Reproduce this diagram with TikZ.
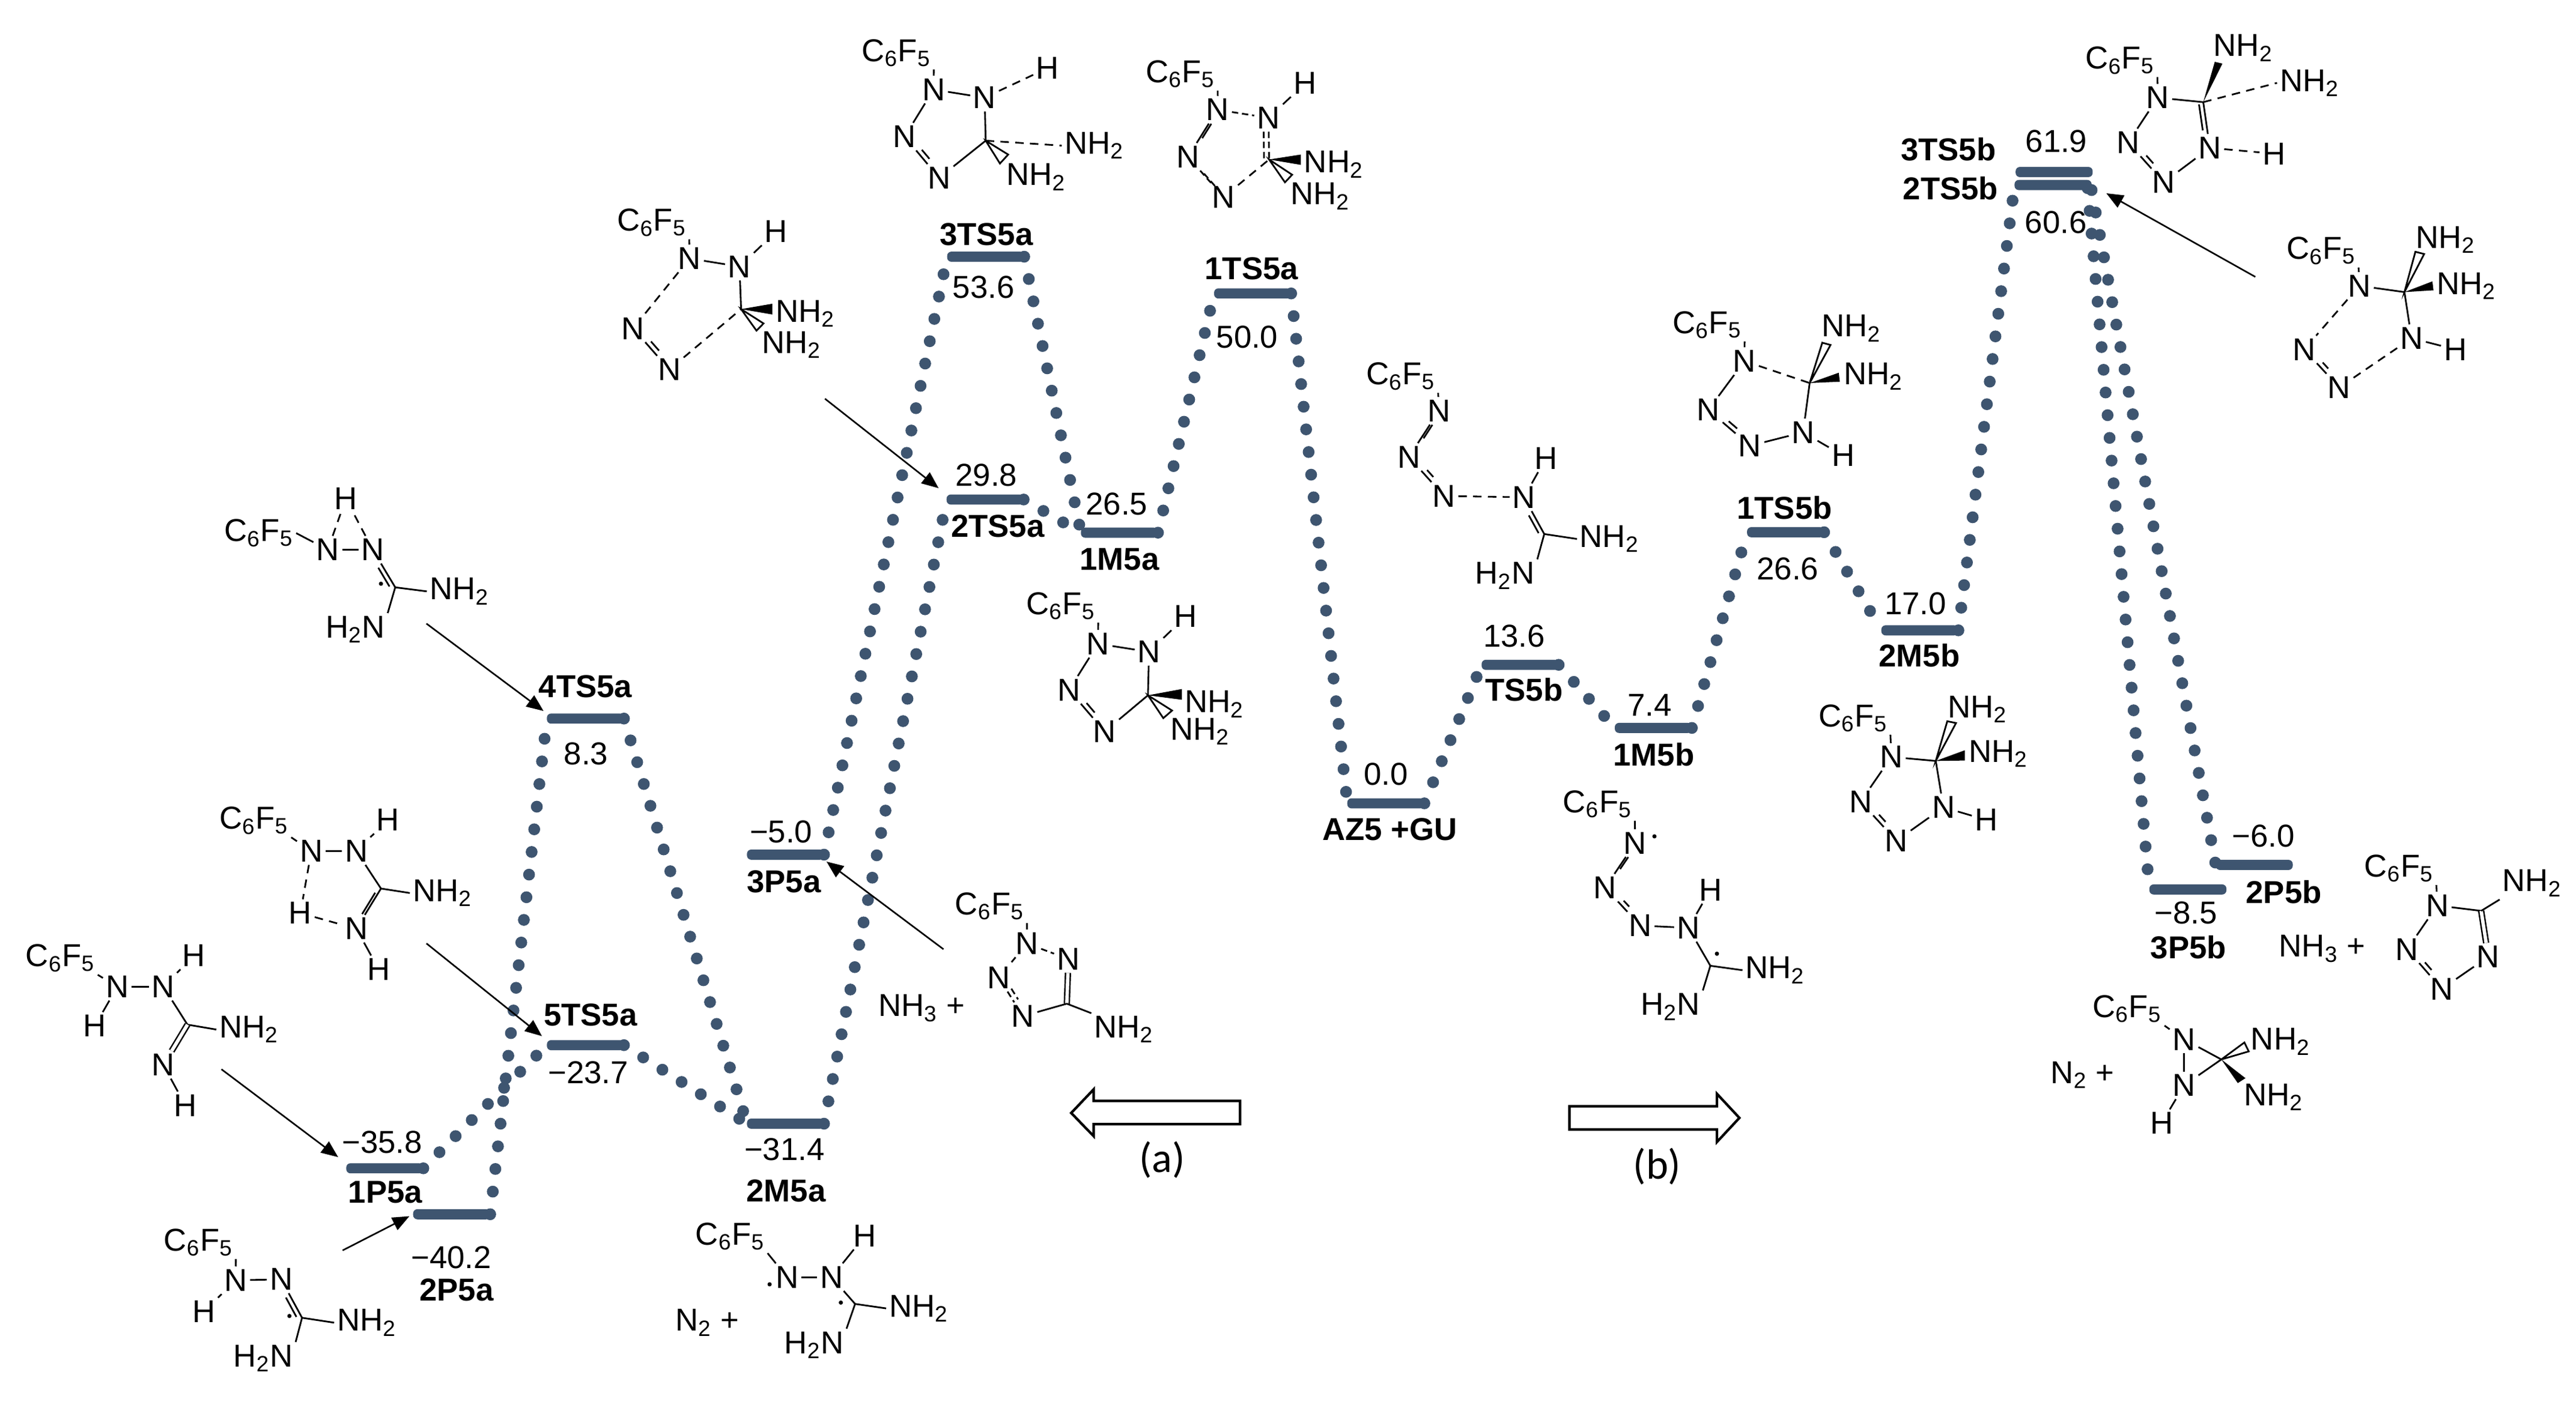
\documentclass[tikz,border=0pt]{standalone}
\usepackage{fontspec}
\setmainfont{Liberation Sans}
\newfontfamily\carlitofont{Carlito}
\usetikzlibrary{arrows.meta}
\definecolor{barblue}{HTML}{3E5570}
\newcommand{\fs}{\fontsize{15}{18}\selectfont}
\newcommand{\nhtwo}{NH\textsubscript{2}}
\newcommand{\htwon}{H\textsubscript{2}N}
\newcommand{\cf}{C\textsubscript{6}F\textsubscript{5}}
\newcommand{\halfbond}[3]{\draw (#1) to (#2); \draw[shorten >=1.4pt,shorten <=1.4pt,transform canvas={shift={(#3)}}] (#1) to (#2);}
\newcommand{\dashbond}[3]{\draw[sbond] (#1) to (#2); \draw[sbond,transform canvas={shift={(#3)}}] (#1) to (#2);}
\tikzset{
  toppanel/.style={shift={(#1,0)},x=0.00912cm,y=-0.007462cm},
  lowpanel/.style={shift={(#1,-11.70cm)},x=0.00912cm,y=-0.00743cm},
  every node/.style={inner sep=.6pt,outer sep=.8pt,font=\fs},
  lbl/.style={font=\fs\bfseries},
  energybar/.style={fill=barblue,rounded corners=2pt,minimum width=36.5pt,minimum height=4.8pt,inner sep=0pt,outer sep=0pt},
  dotline/.style={color=barblue,line width=5.6pt,line cap=round,dash pattern=on 0pt off 10.8pt},
  pointer/.style={line width=.75pt,-{Stealth[length=8pt,width=6.5pt,inset=0pt]}},
  bond/.style={line width=.8pt},
  pbond/.style={line width=.8pt,dash pattern=on 4pt off 3pt},
  sbond/.style={line width=.8pt,dash pattern=on 3pt off 1.8pt},
  dbl/.style={double,double distance=1.6pt,line width=.7pt},
  hollow/.style={line width=.8pt,fill=white},
  blockarrow/.style={line width=1.2pt,fill=white}
}
\begin{document}
\begin{tikzpicture}
  \useasboundingbox (0,0) rectangle (42.88,-23.35);
  % top left
  \begin{scope}[toppanel=0cm,bond]
    \node[lbl] (name4ts) at (1068,1532) {4TS5a};
    \coordinate (tail2ts) at (1505,890);
    \coordinate (tail4ts) at (778,1392);
    \draw
      (1189,497) node (m1cf){\cf}
      (1258,577) node (m1n1){N}
      (1349,595) node (m1n2){N}
      (1416,517) node (m1h){H}
      (1469,700) node (m1nha){\nhtwo}
      (1444,770) node (m1nhb){\nhtwo}
      (1155,733) node (m1n3){N}
      (1221,825) node (m1n4){N};
    \coordinate (m1c) at (1352,690);
    \draw (m1cf.south east) to (m1n1);
    \draw (m1n1) to (m1n2);
    \draw (m1n2) to (m1h);
    \draw (m1n2) to (m1c);
    \draw[pbond] (m1n1) to (m1n3);
    \halfbond{m1n3}{m1n4}{1.8pt,1.4pt}
    \draw[pbond] (m1n4) to (m1c);
    \fill (m1c) -- (1409,678) -- (1409,702) -- cycle;
    \draw[hollow] (m1c) -- (1393,722) -- (1380,738) -- cycle;
    \draw
      (472,1190) node (m13cf){\cf}
      (598,1227) node (m13n1){N}
      (680,1227) node (m13n2){N}
      (631,1113) node (m13h){H}
      (838,1320) node (m13nh){\nhtwo}
      (648,1405) node (m13hn){\htwon};
    \coordinate (m13c) at (721,1311);
    \draw (m13cf.east) to (m13n1);
    \draw (m13n1) to (m13n2);
    \draw[pbond] (m13n1) to (m13h);
    \draw[pbond] (m13n2) to (m13h);
    \halfbond{m13n2}{m13c}{-2pt,-.8pt}
    \draw (m13c) to (m13nh.west);
    \draw (m13c) to (m13hn.north east);
    \fill (695,1303) circle (1pt);
  \end{scope}
  % bottom left
  \begin{scope}[lowpanel=0cm,bond]
    \node[energybar] (ts4a) at (1068,36) {};
    \node[energybar] (ts5a) at (1068,768) {};
    \node[energybar] (p1a) at (702,1044) {};
    \node[energybar] (p2a) at (824,1147) {};
    \node[energybar] (p3a) at (1433,341) {};
    \node[energybar] (m2a) at (1433,944) {};
    \node (val4ts) at (1069,115) {8.3};
    \node[lbl] (name5ts) at (1077,700) {5TS5a};
    \node (val5ts) at (1073,830) {−23.7};
    \node (val1p) at (697,985) {−35.8};
    \node[lbl] (name1p) at (703,1097) {1P5a};
    \node (val2p) at (823,1244) {−40.2};
    \node[lbl] (name2p) at (833,1316) {2P5a};
    \node (val3p) at (1425,290) {−5.0};
    \node[lbl] (name3p) at (1430,402) {3P5a};
    \node (val2m) at (1431,1002) {−31.4};
    \node[lbl] (name2m) at (1434,1094) {2M5a};
    \coordinate (tail5ts) at (778,540);
    \coordinate (tail1p) at (404,822);
    \coordinate (tail2p) at (625,1228);
    \draw
      (110,573) node (m11cf){\cf}
      (214,637) node (m11n1){N}
      (298,637) node (m11n2){N}
      (354,567) node (m11h1){H}
      (173,725) node (m11h2){H}
      (454,733) node (m11nh){\nhtwo}
      (298,812) node (m11n3){N}
      (338,903) node (m11h3){H};
    \coordinate (m11c) at (342,722);
    \draw (m11cf.south east) to (m11n1);
    \draw (m11n1) to (m11n2);
    \draw (m11n2) to (m11h1);
    \draw (m11n1) to (m11h2);
    \draw (m11n2) to (m11c);
    \draw (m11c) to (m11nh.west);
    \draw[dbl] (m11c) to (m11n3);
    \draw (m11n3) to (m11h3);
    \draw
      (463,265) node (m12cf){\cf}
      (568,333) node (m12n1){N}
      (650,333) node (m12n2){N}
      (708,263) node (m12h1){H}
      (548,472) node (m12h2){H}
      (807,427) node (m12nh){\nhtwo}
      (650,507) node (m12n3){N}
      (691,598) node (m12h3){H};
    \coordinate (m12c) at (695,417);
    \draw (m12cf.south east) to (m12n1);
    \draw (m12n1) to (m12n2);
    \draw (m12n2) to (m12h1);
    \draw (m12n2) to (m12c);
    \draw (m12c) to (m12nh.west);
    \halfbond{m12c}{m12n3}{-2pt,-.8pt}
    \draw[pbond] (m12n1) to (m12h2);
    \draw[pbond] (m12h2) to (m12n3);
    \draw (m12n3) to (m12h3);
    \draw
      (362,1210) node (m14cf){\cf}
      (430,1295) node (m14n1){N}
      (513,1293) node (m14n2){N}
      (372,1365) node (m14h){H}
      (669,1390) node (m14nh){\nhtwo}
      (480,1470) node (m14hn){\htwon};
    \coordinate (m14c) at (551,1379);
    \draw (m14cf.south east) to (m14n1);
    \draw (m14n1) to (m14n2);
    \draw (m14n1) to (m14h);
    \halfbond{m14n2}{m14c}{-2pt,-.8pt}
    \draw (m14c) to (m14nh.west);
    \draw (m14c) to (m14hn.north east);
    \fill (528,1375) circle (1pt);
    \draw
      (1332,1197) node (m15cf){\cf}
      (1436,1288) node (m15n1){N}
      (1517,1288) node (m15n2){N}
      (1578,1195) node (m15h){H}
      (1676,1358) node (m15nh){\nhtwo}
      (1485,1440) node (m15hn){\htwon}
      (1290,1390) node (m15plus){N\textsubscript{2} +};
    \coordinate (m15c) at (1560,1348);
    \draw (m15cf.south east) to (m15n1);
    \draw (m15n1) to (m15n2);
    \draw (m15n2) to (m15h);
    \draw (m15n2) to (m15c);
    \draw (m15c) to (m15nh.west);
    \draw (m15c) to (m15hn.north east);
    \fill (1534,1345) circle (1pt);
    \fill (1404,1304) circle (1pt);
  \end{scope}
  % top middle
  \begin{scope}[toppanel=14.30cm,bond]
    \node[energybar] (ts3a) at (231,573) {};
    \node[energybar] (ts1a) at (718,655) {};
    \node[energybar] (ts2a) at (230,1115) {};
    \node[energybar] (m1a) at (475,1189) {};
    \node[energybar] (tsb) at (1206,1484) {};
    \node[lbl] (name3ts) at (232,523) {3TS5a};
    \node (val3ts) at (227,641) {53.6};
    \node[lbl] (name1ts) at (716,600) {1TS5a};
    \node (val1ts) at (708,753) {50.0};
    \node (val2ts) at (232,1060) {29.8};
    \node[lbl] (name2ts) at (253,1175) {2TS5a};
    \node (val1m) at (470,1125) {26.5};
    \node[lbl] (name1m) at (475,1248) {1M5a};
    \node (valtsb) at (1195,1420) {13.6};
    \node[lbl] (nametsb) at (1213,1540) {TS5b};
    \draw
      (68,118) node (m2cf){\cf}
      (136,200) node (m2n1){N}
      (229,218) node (m2n2){N}
      (344,152) node (m2h){H}
      (429,325) node (m2nha){\nhtwo}
      (323,395) node (m2nhb){\nhtwo}
      (83,305) node (m2n3){N}
      (146,397) node (m2n4){N};
    \coordinate (m2c) at (231,314);
    \draw (m2cf.south east) to (m2n1);
    \draw (m2n1) to (m2n2);
    \draw[pbond] (m2n2) to (m2h);
    \draw (m2n2) to (m2c);
    \draw[pbond] (m2c) to (m2nha.west);
    \draw (m2n1) to (m2n3);
    \halfbond{m2n3}{m2n4}{1.8pt,1.4pt}
    \draw (m2n4) to (m2c);
    \draw[hollow] (m2c) -- (272,345) -- (257,365) -- cycle;
    \draw
      (586,165) node (m3cf){\cf}
      (654,245) node (m3n1){N}
      (747,263) node (m3n2){N}
      (814,186) node (m3h){H}
      (866,367) node (m3nha){\nhtwo}
      (841,438) node (m3nhb){\nhtwo}
      (600,350) node (m3n3){N}
      (665,440) node (m3n4){N};
    \coordinate (m3c) at (748,356);
    \draw (m3cf.south east) to (m3n1);
    \draw[sbond] (m3n1) to (m3n2);
    \draw (m3n2) to (m3h);
    \dashbond{m3n2}{m3c}{-2.4pt,0pt}
    \halfbond{m3n1}{m3n3}{1.9pt,1.1pt}
    \dashbond{m3n3}{m3n4}{1.8pt,-1.4pt}
    \draw[pbond] (m3n4) to (m3c);
    \fill (m3c) -- (806,345) -- (806,368) -- cycle;
    \draw[hollow] (m3c) -- (790,390) -- (777,407) -- cycle;
    \draw
      (368,1353) node (m4cf){\cf}
      (436,1437) node (m4n1){N}
      (529,1455) node (m4n2){N}
      (596,1376) node (m4h){H}
      (648,1572) node (m4nha){\nhtwo}
      (622,1633) node (m4nhb){\nhtwo}
      (383,1540) node (m4n3){N}
      (448,1633) node (m4n4){N};
    \coordinate (m4c) at (527,1552);
    \draw (m4cf.south east) to (m4n1);
    \draw (m4n1) to (m4n2);
    \draw (m4n2) to (m4h);
    \draw (m4n2) to (m4c);
    \draw (m4n1) to (m4n3);
    \halfbond{m4n3}{m4n4}{1.8pt,1.4pt}
    \draw (m4n4) to (m4c);
    \fill (m4c) -- (589,1538) -- (589,1562) -- cycle;
    \draw[hollow] (m4c) -- (571,1586) -- (555,1603) -- cycle;
    \draw
      (988,840) node (m5cf){\cf}
      (1058,917) node (m5n1){N}
      (1003,1020) node (m5n2){N}
      (1067,1107) node (m5n3){N}
      (1213,1110) node (m5n4){N}
      (1253,1023) node (m5h){H}
      (1369,1203) node (m5nh){\nhtwo}
      (1178,1285) node (m5hn){\htwon};
    \coordinate (m5c) at (1250,1192);
    \draw (m5cf.south east) to (m5n1);
    \halfbond{m5n1}{m5n2}{1.9pt,1.1pt}
    \halfbond{m5n2}{m5n3}{1.8pt,1.4pt}
    \draw[pbond] (m5n3) to (m5n4);
    \draw (m5n4) to (m5h);
    \halfbond{m5n4}{m5c}{-2pt,-.8pt}
    \draw (m5c) to (m5nh.west);
    \draw (m5c) to (m5hn.north east);
  \end{scope}
  % bottom middle
  \begin{scope}[lowpanel=14.30cm,bond]
    \node[energybar] (az) at (961,226) {};
    \node[energybar] (m1b) at (1449,57) {};
    \node (valaz) at (961,160) {0.0};
    \node[lbl] (nameaz) at (968,285) {AZ5 +GU};
    \node (val1mb) at (1442,6) {7.4};
    \node[lbl] (name1mb) at (1450,116) {1M5b};
    \coordinate (tail3p) at (154,553);
    \node[font=\carlitofont\fontsize{20}{24}\selectfont] (capa) at (553,1025) {(a)};
    \node[font=\carlitofont\fontsize{20}{24}\selectfont] (capb) at (1456,1040) {(b)};
    \draw[blockarrow] (695,893) -- (428,893) -- (428,867) -- (387,920) -- (428,972) -- (428,945) -- (695,945) -- cycle;
    \draw[blockarrow] (1296,905) -- (1565,905) -- (1565,877) -- (1606,931) -- (1565,985) -- (1565,957) -- (1296,957) -- cycle;
    \draw
      (114,685) node (m16plus){NH\textsubscript{3} +}
      (238,457) node (m16cf){\cf}
      (306,540) node (m16n1){N}
      (382,575) node (m16n2){N}
      (255,617) node (m16n3){N}
      (299,703) node (m16n4){N}
      (483,733) node (m16nh){\nhtwo};
    \coordinate (m16c) at (379,675);
    \draw (m16cf.south east) to (m16n1);
    \draw[sbond] (m16n1) to (m16n2);
    \draw[sbond] (m16n1) to (m16n3);
    \dashbond{m16n3}{m16n4}{1.8pt,1.4pt}
    \draw[dbl] (m16n2) to (m16c);
    \draw (m16n4) to (m16c);
    \draw (m16c) to (m16nh.north west);
    \draw
      (1347,228) node (m10cf){\cf}
      (1416,315) node (m10n1){N}
      (1361,415) node (m10n2){N}
      (1425,500) node (m10n3){N}
      (1513,505) node (m10n4){N}
      (1553,420) node (m10h){H}
      (1671,600) node (m10nh){\nhtwo}
      (1480,682) node (m10hn){\htwon};
    \coordinate (m10c) at (1553,590);
    \draw (m10cf.south east) to (m10n1);
    \halfbond{m10n1}{m10n2}{1.9pt,1.1pt}
    \halfbond{m10n2}{m10n3}{1.8pt,1.4pt}
    \draw (m10n3) to (m10n4);
    \draw (m10n4) to (m10h);
    \draw (m10n4) to (m10c);
    \draw (m10c) to (m10nh.west);
    \draw (m10c) to (m10hn.north east);
    \fill (1451,300) circle (1pt);
    \fill (1565,563) circle (1pt);
  \end{scope}
  % top right
  \begin{scope}[toppanel=28.60cm,bond]
    \node[energybar] (ts3b) at (613,384) {};
    \node[energybar] (ts2b) at (611,413) {};
    \node[energybar] (ts1b) at (123,1188) {};
    \node[energybar] (m2b) at (368,1407) {};
    \node[lbl] (name3tb) at (420,333) {3TS5b};
    \node[lbl] (name2tb) at (424,421) {2TS5b};
    \node (val3tb) at (617,315) {61.9};
    \node (val2tb) at (616,496) {60.6};
    \node[lbl] (name1tb) at (121,1133) {1TS5b};
    \node (val1tb) at (127,1270) {26.6};
    \node (val2mb) at (360,1347) {17.0};
    \node[lbl] (name2mb) at (367,1463) {2M5b};
    \coordinate (foot2tb) at (674,420);
    \coordinate (tail2tb) at (980,618);
    \draw
      (-20,725) node (m6cf){\cf}
      (48,806) node (m6n1){N}
      (-18,915) node (m6n2){N}
      (58,995) node (m6n3){N}
      (155,965) node (m6n4){N}
      (228,1017) node (m6h){H}
      (243,733) node (m6nha){\nhtwo}
      (283,840) node (m6nhb){\nhtwo};
    \coordinate (m6c) at (167,855);
    \draw (m6cf.south east) to (m6n1);
    \draw (m6n1) to (m6n2);
    \halfbond{m6n2}{m6n3}{1.8pt,1.4pt}
    \draw (m6n3) to (m6n4);
    \draw (m6n4) to (m6h);
    \draw (m6n4) to (m6c);
    \draw[pbond] (m6n1) to (m6c);
    \draw[hollow] (m6c) -- (190,765) -- (205,770) -- cycle;
    \fill (m6c) -- (220,832) -- (222,852) -- cycle;
    \draw
      (733,135) node (m7cf){\cf}
      (802,218) node (m7n1){N}
      (748,318) node (m7n2){N}
      (813,407) node (m7n3){N}
      (897,330) node (m7n4){N}
      (1014,343) node (m7h){H}
      (958,107) node (m7nha){\nhtwo}
      (1079,185) node (m7nhb){\nhtwo};
    \coordinate (m7c) at (885,228);
    \draw (m7cf.south east) to (m7n1);
    \draw (m7n1) to (m7n2);
    \halfbond{m7n2}{m7n3}{1.8pt,1.4pt}
    \draw (m7n3) to (m7n4);
    \halfbond{m7n4}{m7c}{-2.2pt,.3pt}
    \draw[pbond] (m7n4) to (m7h);
    \draw (m7n1) to (m7c);
    \draw[pbond] (m7c) to (m7nhb.west);
    \fill (m7c) -- (906,138) -- (920,142) -- cycle;
    \draw
      (1100,560) node (m8cf){\cf}
      (1170,638) node (m8n1){N}
      (1069,780) node (m8n2){N}
      (1133,865) node (m8n3){N}
      (1265,755) node (m8n4){N}
      (1345,780) node (m8h){H}
      (1327,535) node (m8nha){\nhtwo}
      (1365,638) node (m8nhb){\nhtwo};
    \coordinate (m8c) at (1252,652);
    \draw (m8cf.south east) to (m8n1);
    \draw (m8n1) to (m8c);
    \draw[pbond] (m8n1) to (m8n2);
    \halfbond{m8n2}{m8n3}{1.8pt,1.4pt}
    \draw[pbond] (m8n3) to (m8n4);
    \draw (m8n4) to (m8h);
    \draw (m8n4) to (m8c);
    \draw[hollow] (m8c) -- (1272,562) -- (1288,567) -- cycle;
    \fill (m8c) -- (1303,628) -- (1305,648) -- cycle;
  \end{scope}
  % bottom right
  \begin{scope}[lowpanel=28.60cm,bond]
    \node[energybar] (p2b) at (978,364) {};
    \node[energybar] (p3b) at (857,419) {};
    \node (val2pb) at (995,299) {−6.0};
    \node[lbl] (name2pb) at (1032,425) {2P5b};
    \node (val3pb) at (853,472) {−8.5};
    \node[lbl] (name3pb) at (858,548) {3P5b};
    \draw
      (246,35) node (m9cf){\cf}
      (316,122) node (m9n1){N}
      (260,222) node (m9n2){N}
      (325,310) node (m9n3){N}
      (411,235) node (m9n4){N}
      (489,263) node (m9h){H}
      (473,15) node (m9nha){\nhtwo}
      (511,115) node (m9nhb){\nhtwo};
    \coordinate (m9c) at (397,131);
    \draw (m9cf.south east) to (m9n1);
    \draw (m9n1) to (m9c);
    \draw (m9n1) to (m9n2);
    \halfbond{m9n2}{m9n3}{1.8pt,1.4pt}
    \draw (m9n3) to (m9n4);
    \draw (m9n4) to (m9h);
    \draw (m9n4) to (m9c);
    \draw[hollow] (m9c) -- (418,42) -- (434,46) -- cycle;
    \fill (m9c) -- (450,107) -- (450,130) -- cycle;
    \draw
      (1102,552) node (m17plus){NH\textsubscript{3} +}
      (1242,372) node (m17cf){\cf}
      (1312,455) node (m17n1){N}
      (1405,570) node (m17n2){N}
      (1257,553) node (m17n3){N}
      (1320,642) node (m17n4){N}
      (1485,405) node (m17nh){\nhtwo};
    \coordinate (m17c) at (1392,467);
    \draw (m17cf.south east) to (m17n1);
    \draw (m17n1) to (m17c);
    \draw[dbl] (m17c) to (m17n2);
    \draw (m17n1) to (m17n3);
    \halfbond{m17n3}{m17n4}{1.8pt,1.4pt}
    \draw (m17n4) to (m17n2);
    \draw (m17c) to (m17nh.south west);
    \draw
      (665,835) node (m18plus){N\textsubscript{2} +}
      (746,687) node (m18cf){\cf}
      (850,755) node (m18n1){N}
      (850,858) node (m18n2){N}
      (809,943) node (m18h){H}
      (1026,760) node (m18nha){\nhtwo}
      (1013,885) node (m18nhb){\nhtwo};
    \coordinate (m18c) at (918,800);
    \draw (m18cf.south east) to (m18n1);
    \draw (m18n1) to (m18n2);
    \draw (m18n1) to (m18c);
    \draw (m18n2) to (m18c);
    \draw (m18n2) to (m18h);
    \draw[hollow] (m18c) -- (960,762) -- (968,782) -- cycle;
    \fill (m18c) -- (948,853) -- (962,842) -- cycle;
  \end{scope}
  % dotted paths between the levels
  \begin{scope}[dotline]
    \draw (p1a.east) to (ts5a.west);
    \draw (ts5a.east) to (m2a.west);
    \draw (p2a.east) to (ts4a.west);
    \draw (ts4a.east) to (m2a.west);
    \draw (m2a.east) to (ts2a.west);
    \draw (p3a.east) to (ts3a.west);
    \draw (ts3a.east) to (m1a.west);
    \draw (ts2a.east) to (m1a.west);
    \draw (m1a.east) to (ts1a.west);
    \draw (ts1a.east) to (az.west);
    \draw (az.east) to (tsb.west);
    \draw (tsb.east) to (m1b.west);
    \draw (m1b.east) to (ts1b.west);
    \draw (ts1b.east) to (m2b.west);
    \draw (m2b.east) to (ts2b.west);
    \draw (foot2tb) to (p3b.west);
    \draw (ts2b.south east) to (p2b.west);
  \end{scope}
  % arrows from the structures
  \begin{scope}[pointer]
    \draw[shorten >=2pt] (tail4ts) to (ts4a.north west);
    \draw[shorten >=3pt] (tail5ts) to (ts5a.north west);
    \draw[shorten >=4.8pt] (tail1p) to (p1a.north west);
    \draw[shorten >=2pt] (tail2p) to (p2a.west);
    \draw[shorten >=1.5pt] (tail3p) to (p3a.south east);
    \draw[shorten >=4.8pt] (tail2ts) to (ts2a.north west);
    \draw[shorten >=8pt] (tail2tb) to (ts2b.east);
  \end{scope}
\end{tikzpicture}
\end{document}
